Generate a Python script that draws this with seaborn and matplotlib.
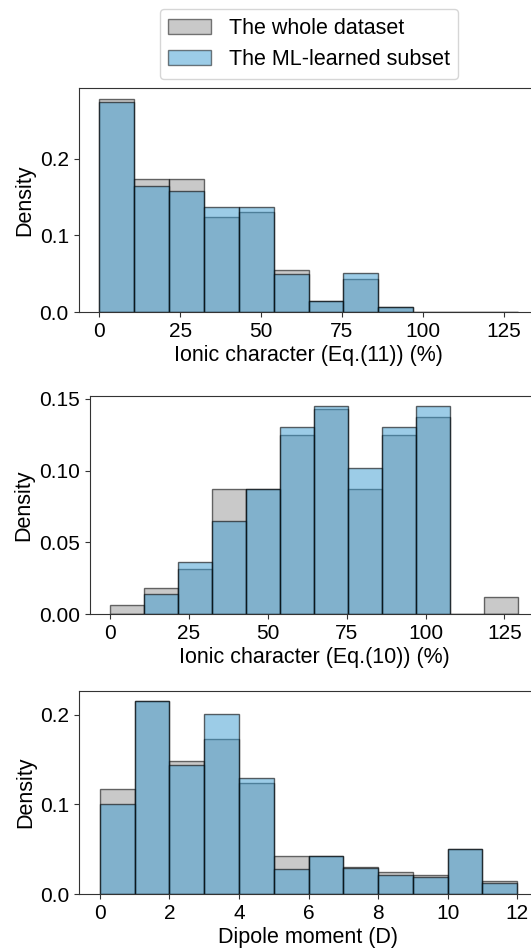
import numpy as np
import pandas as pd
import matplotlib
matplotlib.use("Agg")
import matplotlib.pyplot as plt
import matplotlib.patches as mpatches
from matplotlib.ticker import MultipleLocator
import seaborn as sns

# ── Data ──────────────────────────────────────────────────────────────────────
ionic_edges = [0, 10.78, 21.57, 32.35, 43.13, 53.92, 64.70,
               75.48, 86.27, 97.05, 107.83, 118.62, 129.40]
dipole_edges = [0, 1, 2, 3, 4, 5, 6, 7, 8, 9, 10, 11, 12]

ionic11_whole  = [0.2776, 0.1730, 0.1730, 0.1237, 0.1299, 0.0553,
                  0.0144, 0.0427, 0.0065, 0.0, 0.0, 0.0]
ionic11_subset = [0.2732, 0.1647, 0.1573, 0.1364, 0.1364, 0.0501,
                  0.0144, 0.0505, 0.0065, 0.0, 0.0, 0.0]

ionic10_whole  = [0.0063, 0.0184, 0.0312, 0.0869, 0.0869, 0.1246,
                  0.1432, 0.0869, 0.1246, 0.1372, 0.0, 0.0121]
ionic10_subset = [0.0, 0.0137, 0.0361, 0.0650, 0.0869, 0.1306,
                  0.1449, 0.1015, 0.1306, 0.1449, 0.0, 0.0]

dipole_whole  = [0.1169, 0.2156, 0.1479, 0.1732, 0.1236, 0.0428,
                 0.0428, 0.0305, 0.0240, 0.0214, 0.0503, 0.0141]
dipole_subset = [0.1009, 0.2156, 0.1441, 0.2011, 0.1292, 0.0280,
                 0.0428, 0.0285, 0.0208, 0.0193, 0.0503, 0.0126]

labels = ["The whole dataset", "The ML-learned subset"]
xlabels = ["Ionic character (Eq.(11)) (%)",
           "Ionic character (Eq.(10)) (%)",
           "Dipole moment (D)"]

# ── Style ─────────────────────────────────────────────────────────────────────
plt.rcParams["font.family"] = ["Liberation Sans", "DejaVu Sans"]
plt.rcParams["font.size"] = 15

GREY, GREY_A = "#8e8e8e", 0.47
BLUE, BLUE_A = "#3a9bd0", 0.5
TICK_FS, LABEL_FS = 15, 15.5

W, H = 531, 949
fig = plt.figure(figsize=(W / 100, H / 100), dpi=100)


def px_axes(left, top, right, bottom):
    return fig.add_axes([left / W, 1 - bottom / H, (right - left) / W, (bottom - top) / H])


panels = [
    (px_axes(78.5, 88.3, 538.7, 312.0), ionic_edges, ionic11_whole, ionic11_subset, 0.1, 25),
    (px_axes(89.5, 395.7, 538.7, 614.0), ionic_edges, ionic10_whole, ionic10_subset, 0.05, 25),
    (px_axes(79.0, 691.0, 538.0, 894.0), dipole_edges, dipole_whole, dipole_subset, 0.1, 2),
]

for (ax, edges, whole, subset, ystep, xstep), xlab in zip(panels, xlabels):
    e = np.asarray(edges, dtype=float)
    centers = (e[:-1] + e[1:]) / 2
    for dens, col, alpha in [(whole, GREY, GREY_A), (subset, BLUE, BLUE_A)]:
        df = pd.DataFrame({"value": centers, "density": dens})
        sns.histplot(data=df, x="value", weights="density", bins=list(edges), stat="count",
                     color=col, alpha=alpha, edgecolor=(0, 0, 0, alpha + 0.1),
                     linewidth=1.0, ax=ax)
    ax.set_xlabel(xlab, fontsize=LABEL_FS, labelpad=3)
    ax.set_ylabel("Density", fontsize=LABEL_FS, labelpad=3)
    ax.yaxis.set_major_locator(MultipleLocator(ystep))
    ax.xaxis.set_major_locator(MultipleLocator(xstep))
    ax.tick_params(labelsize=TICK_FS, color="#333333")
    for spine in ax.spines.values():
        spine.set_edgecolor("#333333")

# ── Legend ────────────────────────────────────────────────────────────────────
handles = [
    mpatches.Patch(facecolor=mpl_c, edgecolor=(0, 0, 0, a), alpha=None, label=lab)
    for mpl_c, a, lab in [(matplotlib.colors.to_rgba(GREY, GREY_A), 0.5, labels[0]),
                          (matplotlib.colors.to_rgba(BLUE, BLUE_A), 0.5, labels[1])]
]
fig.legend(handles=handles, loc="lower center", bbox_to_anchor=(309 / W, 1 - 79 / H),
           borderaxespad=0, fontsize=15.5)

plt.savefig("out.png", dpi=100)
plt.close()
